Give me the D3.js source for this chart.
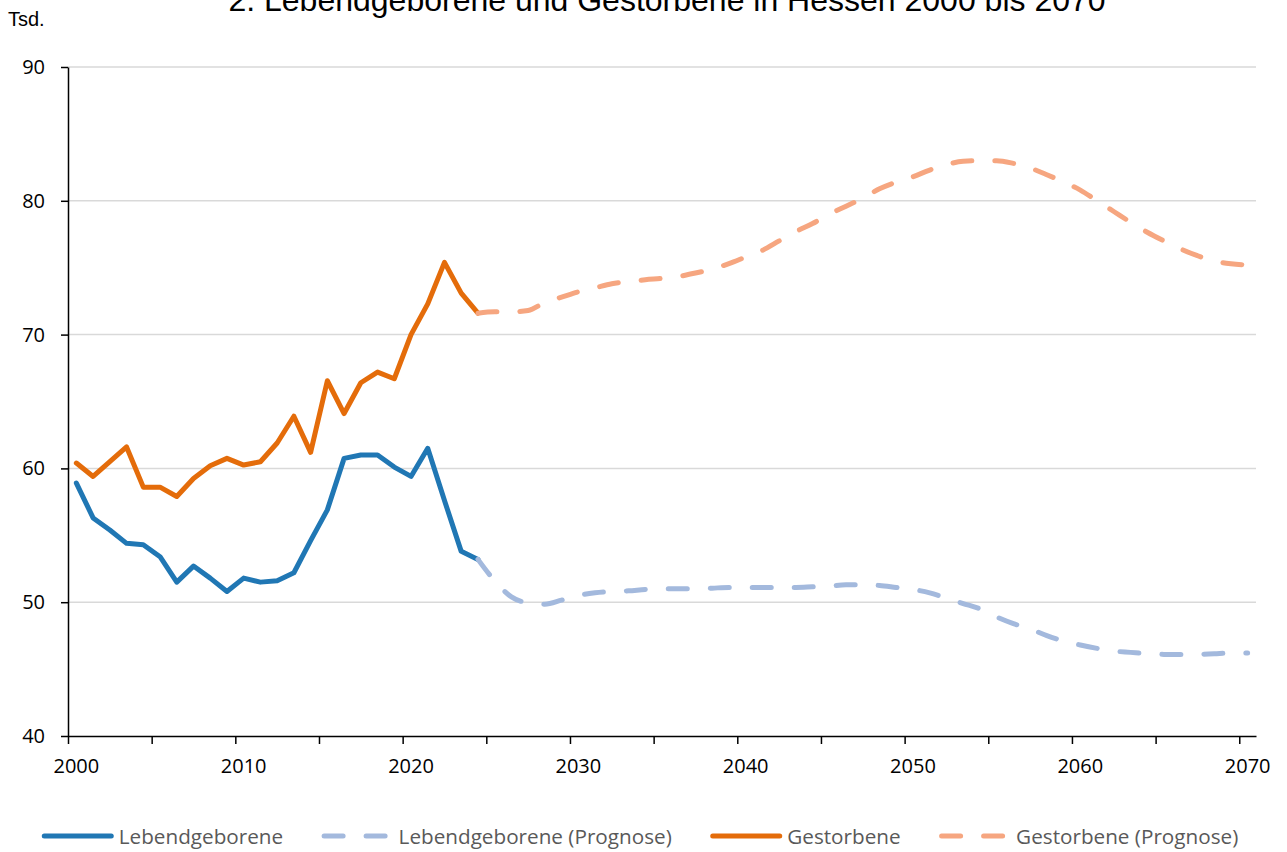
<!DOCTYPE html>
<html>
<head>
<meta charset="utf-8">
<script src="https://cdn.jsdelivr.net/npm/d3@7"></script>
<style>
  body { margin: 0; background: #fff; }
  svg { display: block; }
</style>
</head>
<body>
<script>

// ---- data (Tsd.) ----
var years_ist = d3.range(2000, 2025);
var years_prog = d3.range(2024, 2071);

var geb_ist = [58.9, 56.3, 55.4, 54.4, 54.3, 53.4, 51.5, 52.7, 51.8, 50.8,
               51.8, 51.5, 51.6, 52.2, 54.6, 56.9, 60.75, 61.0, 61.0, 60.1,
               59.4, 61.5, 57.6, 53.8, 53.2];
var gest_ist = [60.4, 59.4, 60.5, 61.6, 58.6, 58.6, 57.9, 59.25, 60.2, 60.75,
                60.25, 60.5, 61.9, 63.9, 61.2, 66.55, 64.1, 66.4, 67.2, 66.7,
                70.0, 72.3, 75.4, 73.1, 71.6];
var geb_prog = [53.2, 51.6, 50.4, 49.95, 49.85, 50.15, 50.5, 50.7, 50.8, 50.85,
                50.95, 51.0, 51.0, 51.0, 51.05, 51.1, 51.1, 51.1, 51.1, 51.1,
                51.15, 51.2, 51.3, 51.3, 51.25, 51.1, 50.95, 50.7, 50.3, 49.9,
                49.5, 48.9, 48.4, 48.0, 47.5, 47.1, 46.8, 46.55, 46.35, 46.25,
                46.15, 46.1, 46.1, 46.1, 46.15, 46.2, 46.2];
var gest_prog = [71.6, 71.7, 71.7, 71.8, 72.4, 72.8, 73.2, 73.5, 73.8, 73.95,
                 74.1, 74.2, 74.35, 74.6, 74.9, 75.3, 75.8, 76.3, 77.0, 77.7,
                 78.3, 79.0, 79.6, 80.2, 80.9, 81.4, 81.8, 82.3, 82.7, 82.95,
                 83.0, 83.0, 82.8, 82.45, 81.95, 81.4, 80.8, 80.0, 79.2, 78.4,
                 77.65, 77.0, 76.4, 75.9, 75.5, 75.3, 75.2];

var y_ticks = [40, 50, 60, 70, 80, 90];
var x_labels = [2000, 2010, 2020, 2030, 2040, 2050, 2060, 2070];
var x_marks = d3.range(2000, 2071, 5);

var series_names = ["Lebendgeborene", "Lebendgeborene (Prognose)", "Gestorbene", "Gestorbene (Prognose)"];
var series_colors = ["#2077b4", "#a3b9dd", "#e46c0a", "#f6a680"];
var series_dashed = [false, true, false, true];

var title_text = "2. Lebendgeborene und Gestorbene in Hessen 2000 bis 2070";

(function() {

  // ---- layout ----
  var W = 1287, H = 852;
  var pl = 68, pr = 1256, pt = 67, pb = 736;
  var dash = "19,23";

  var svg = d3.select("body").append("svg")
              .attr("width", W)
              .attr("height", H);

  // category axis: each year is a band, points sit in the middle
  var x = d3.scaleBand().domain(d3.range(2000, 2071)).range([pl, pr]).padding(0);
  var xEdge = d3.scaleLinear().domain([2000, 2071]).range([pl, pr]);
  var xc = function(yr){ return x(yr) + x.bandwidth() / 2; };
  var y = d3.scaleLinear().domain([40, 90]).range([pb, pt]);

  // title (cut off at top like in the original)
  svg.append("text")
     .attr("x", 667).attr("y", 11)
     .attr("text-anchor", "middle")
     .attr("font-family", "Liberation Sans, Arial, sans-serif")
     .attr("font-size", 32)
     .attr("fill", "#000")
     .text(title_text);

  svg.append("text")
     .attr("x", 8).attr("y", 26)
     .attr("font-family", "Liberation Sans, Arial, sans-serif")
     .attr("font-size", 20)
     .attr("fill", "#000")
     .text("Tsd.");

  // gridlines
  svg.append("g").selectAll("line")
     .data(y_ticks.filter(function(d){ return d > 40; }))
     .enter().append("line")
     .attr("x1", pl).attr("x2", pr)
     .attr("y1", function(d){ return y(d); })
     .attr("y2", function(d){ return y(d); })
     .attr("stroke", "#d9d9d9")
     .attr("stroke-width", 1.5);

  // y axis
  var yAxis = svg.append("g")
     .attr("transform", "translate(" + pl + ",0)")
     .call(d3.axisLeft(y).tickValues(y_ticks).tickSize(7).tickPadding(16).tickSizeOuter(0));
  yAxis.select(".domain").attr("stroke", "#000").attr("stroke-width", 1.5);
  yAxis.selectAll(".tick line").attr("stroke", "#000").attr("stroke-width", 1.5);
  yAxis.selectAll("text")
       .attr("font-family", "Open Sans, sans-serif")
       .attr("font-size", 20)
       .attr("fill", "#000");

  // x axis - tick marks every 5 years on category edges
  var xMarks = svg.append("g")
     .attr("transform", "translate(0," + pb + ")")
     .call(d3.axisBottom(xEdge).tickValues(x_marks).tickSize(8).tickFormat("").tickSizeOuter(0));
  xMarks.select(".domain").attr("stroke", "#000").attr("stroke-width", 1.5);
  xMarks.selectAll(".tick line").attr("stroke", "#000").attr("stroke-width", 1.5);

  // x labels centered in the category
  var xLab = svg.append("g")
     .attr("transform", "translate(0," + pb + ")")
     .call(d3.axisBottom(x).tickValues(x_labels).tickSize(0).tickPadding(23));
  xLab.select(".domain").remove();
  xLab.selectAll("text")
      .attr("font-family", "Open Sans, sans-serif")
      .attr("font-size", 20)
      .attr("fill", "#000");

  // lines
  var lineIst = d3.line()
     .x(function(d){ return xc(d[0]); })
     .y(function(d){ return y(d[1]); });
  var lineProg = d3.line()
     .curve(d3.curveMonotoneX)
     .x(function(d){ return xc(d[0]); })
     .y(function(d){ return y(d[1]); });

  var series = [
    { pts: d3.zip(years_ist, geb_ist), gen: lineIst },
    { pts: d3.zip(years_prog, geb_prog), gen: lineProg },
    { pts: d3.zip(years_ist, gest_ist), gen: lineIst },
    { pts: d3.zip(years_prog, gest_prog), gen: lineProg }
  ];

  series.forEach(function(s, i){
    svg.append("path")
       .attr("d", s.gen(s.pts))
       .attr("fill", "none")
       .attr("stroke", series_colors[i])
       .attr("stroke-width", 5)
       .attr("stroke-linejoin", "round")
       .attr("stroke-linecap", "round")
       .attr("stroke-dasharray", series_dashed[i] ? dash : null);
  });

  // legend - laid out one after the other, centred
  var leg = svg.append("g");
  var symW = 67, capGap = 2.5, txtGap = 7.5, itemGap = 38.5, legY = 836;
  var cursor = 0;
  series_names.forEach(function(name, i){
    var g = leg.append("g").attr("transform", "translate(" + cursor + ",0)");
    g.append("line")
     .attr("x1", capGap).attr("x2", capGap + symW)
     .attr("y1", legY).attr("y2", legY)
     .attr("stroke", series_colors[i])
     .attr("stroke-width", 5)
     .attr("stroke-linecap", "round")
     .attr("stroke-dasharray", series_dashed[i] ? dash : null);
    var t = g.append("text")
     .attr("x", capGap + symW + txtGap)
     .attr("y", legY + 8)
     .attr("font-family", "Open Sans, sans-serif")
     .attr("font-size", 20.7)
     .attr("fill", "#595959")
     .text(name);
    cursor += capGap + symW + txtGap + t.node().getComputedTextLength() + itemGap;
  });
  var legW = cursor - itemGap;
  leg.attr("transform", "translate(" + (640 - legW / 2) + ",0)");

})();

</script>
</body>
</html>
